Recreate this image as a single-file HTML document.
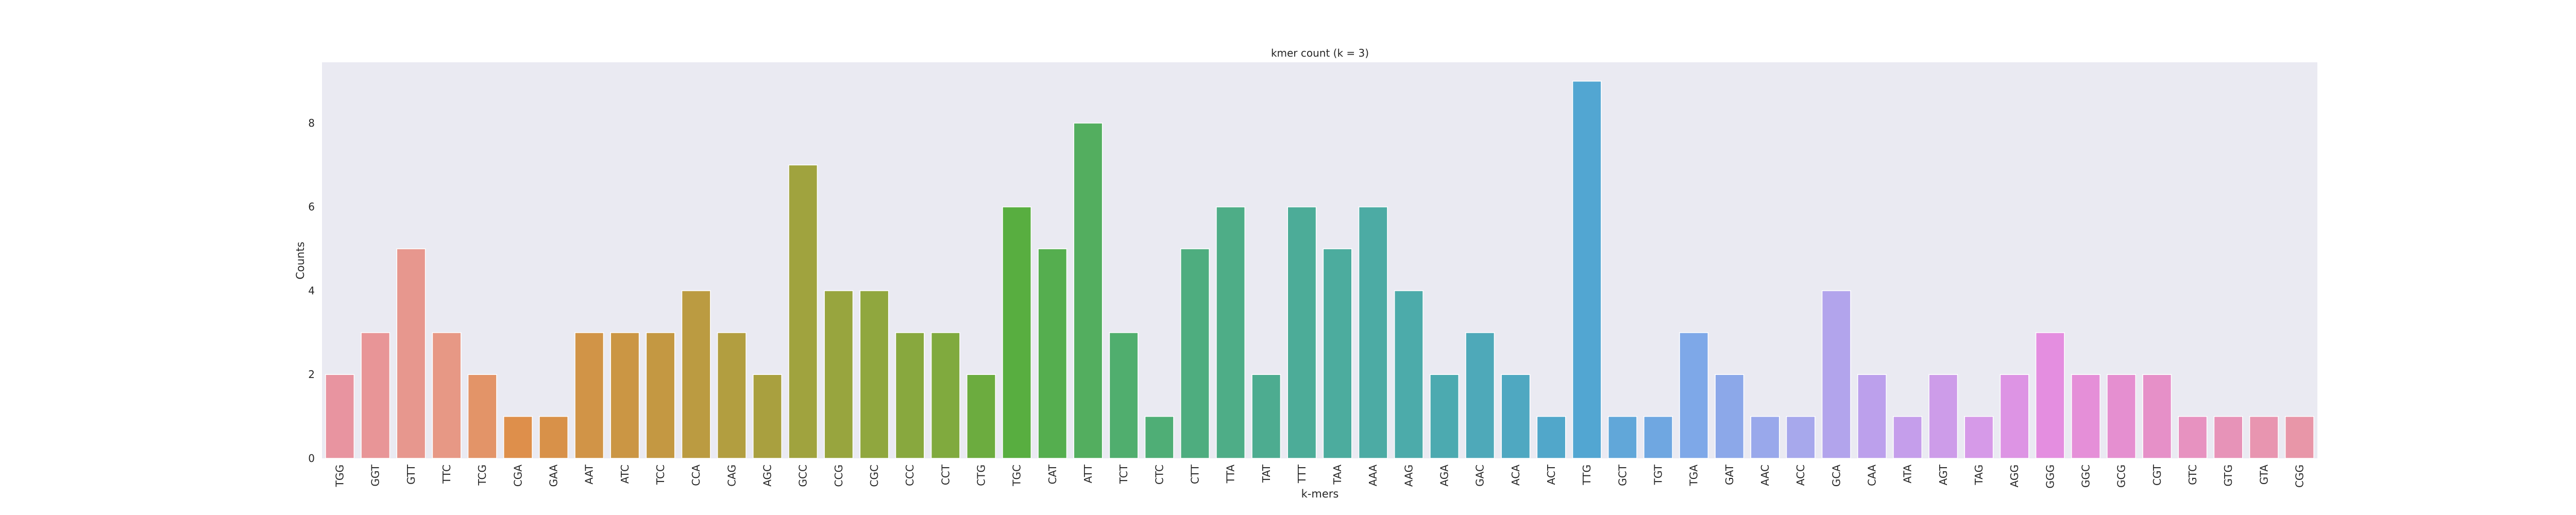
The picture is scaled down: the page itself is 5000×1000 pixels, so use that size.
<!DOCTYPE html>
<html><head><meta charset="utf-8"><style>
html,body{margin:0;padding:0;background:#fff;}
svg{display:block;font-family:"DejaVu Sans","Liberation Sans",sans-serif;}
</style></head><body>
<svg id="chart" width="5000" height="1000" viewBox="0 0 5000 1000" xmlns="http://www.w3.org/2000/svg">
<rect x="0" y="0" width="5000" height="1000" fill="#ffffff"/>
<rect x="625" y="121" width="3873" height="769" fill="#eaeaf2"/>
<g id="bars"></g>
<g id="xticks"></g>
<g id="yticks"></g>
<text x="2562" y="110" font-size="20" fill="#262626" text-anchor="middle">kmer count (k = 3)</text>
<text x="2562" y="966" font-size="21" fill="#262626" text-anchor="middle">k-mers</text>
<text transform="translate(590,506) rotate(-90)" font-size="21" fill="#262626" text-anchor="middle">Counts</text>
</svg>
<script>
const categories = ["TGG","GGT","GTT","TTC","TCG","CGA","GAA","AAT","ATC","TCC","CCA","CAG","AGC","GCC","CCG","CGC","CCC","CCT","CTG","TGC","CAT","ATT","TCT","CTC","CTT","TTA","TAT","TTT","TAA","AAA","AAG","AGA","GAC","ACA","ACT","TTG","GCT","TGT","TGA","GAT","AAC","ACC","GCA","CAA","ATA","AGT","TAG","AGG","GGG","GGC","GCG","CGT","GTC","GTG","GTA","CGG"];
const counts = [2,3,5,3,2,1,1,3,3,3,4,3,2,7,4,4,3,3,2,6,5,8,3,1,5,6,2,6,5,6,4,2,3,2,1,9,1,1,3,2,1,1,4,2,1,2,1,2,3,2,2,2,1,1,1,1];
const yTicks = [0,2,4,6,8];
const yMax = 9.45;

const NS = "http://www.w3.org/2000/svg";
const plotL = 625, plotR = 4498, plotT = 121, plotB = 890;
const step = (plotR - plotL) / categories.length;
function xScale(i){ return plotL + step * i; }
function yScale(v){ return plotB - (plotB - plotT) * v / yMax; }

const anchors = [
 [0,[232,148,160]],[3,[231,152,133]],[5,[222,143,75]],[9,[196,152,66]],[13,[160,163,62]],
 [17,[128,170,62]],[19,[88,174,64]],[22,[80,174,110]],[27,[76,172,152]],[31,[76,170,176]],
 [35,[82,166,210]],[38,[126,168,232]],[41,[167,168,236]],[43,[188,160,236]],[46,[214,154,232]],
 [48,[228,142,224]],[51,[230,144,200]],[55,[232,150,168]]
];
function colorAt(i){
  for(let k=0;k<anchors.length-1;k++){
    const [a,ca]=anchors[k],[b,cb]=anchors[k+1];
    if(i>=a&&i<=b){const t=(i-a)/(b-a);const c=ca.map((v,j)=>Math.round(v+(cb[j]-v)*t));return `rgb(${c[0]},${c[1]},${c[2]})`;}
  }
  return "rgb(232,150,168)";
}

const barsG = document.getElementById('bars');
const xG = document.getElementById('xticks');
const yG = document.getElementById('yticks');

categories.forEach((cat,i)=>{
  const bw = step*0.8;
  const x0 = xScale(i) + step*0.1;
  const y0 = yScale(counts[i]);
  const r = document.createElementNS(NS,'rect');
  r.setAttribute('x',x0); r.setAttribute('y',y0);
  r.setAttribute('width',bw); r.setAttribute('height',plotB-y0);
  r.setAttribute('fill',colorAt(i)); r.setAttribute('stroke','#ffffff'); r.setAttribute('stroke-width','1.5');
  
  
  barsG.appendChild(r);
  const cx = xScale(i)+step/2;
  const t = document.createElementNS(NS,'text');
  t.setAttribute('transform',`translate(${cx+7},${902}) rotate(-90)`);
  t.setAttribute('font-size','20'); t.setAttribute('fill','#262626'); t.setAttribute('text-anchor','end');
  t.textContent = cat;
  
  
  xG.appendChild(t);
});
yTicks.forEach(v=>{
  const t = document.createElementNS(NS,'text');
  t.setAttribute('x',611); t.setAttribute('y',yScale(v)+7);
  t.setAttribute('font-size','20'); t.setAttribute('fill','#262626'); t.setAttribute('text-anchor','end');
  t.textContent = String(v);
  
  
  yG.appendChild(t);
});
</script>
</body></html>
